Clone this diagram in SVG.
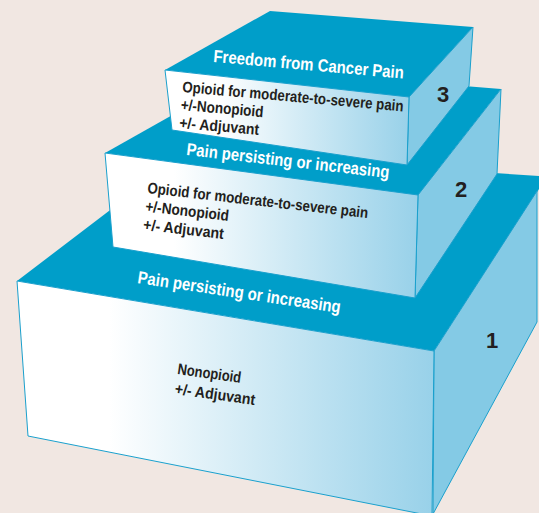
<svg xmlns="http://www.w3.org/2000/svg" width="539" height="513" viewBox="0 0 539 513">
  <defs>
    <linearGradient id="frontFill" x1="0" y1="0" x2="1" y2="0">
      <stop offset="0" stop-color="#ffffff"/>
      <stop offset="0.22" stop-color="#ffffff"/>
      <stop offset="1" stop-color="#98d1e9"/>
    </linearGradient>
    <style>
      .top { fill: #009ec9; }
      .side { fill: #84cae5; stroke: #1aa0cd; stroke-width: 1; stroke-linejoin: round; }
      .front { fill: url(#frontFill); stroke: #1aa0cd; stroke-width: 1; stroke-linejoin: round; }
      .label { font-family: 'Liberation Sans', Arial, sans-serif; font-weight: bold; fill: #ffffff; font-size: 17.5px; }
      .body { font-family: 'Liberation Sans', Arial, sans-serif; font-weight: bold; fill: #231f20; font-size: 15.5px; }
      .step { font-family: 'Liberation Sans', Arial, sans-serif; font-weight: bold; fill: #231f20; font-size: 22px; }
    </style>
  </defs>

  <rect width="539" height="513" fill="#f1e7e2"/>

  <!-- Step 1: base block -->
  <g id="step1">
    <polygon class="top" points="17,281 434,351 539,189 539,176 185,153"/>
    <polygon class="side" points="434,351 537,191 537,322 433,514"/>
    <polygon class="front" points="17,281 434,351 432,516 28,436"/>
    <text class="label" transform="rotate(8.4 137 283)" x="137" y="283" textLength="205" lengthAdjust="spacingAndGlyphs">Pain persisting or increasing</text>
    <text class="body" transform="rotate(8 177 374)" x="177" y="374" textLength="64" lengthAdjust="spacingAndGlyphs">Nonopioid</text>
    <text class="body" transform="rotate(8 174.2 393.8)" x="174.2" y="393.8" textLength="81" lengthAdjust="spacingAndGlyphs">+/- Adjuvant</text>
    <text class="step" x="486" y="348">1</text>
  </g>

  <!-- Step 2: middle block -->
  <g id="step2">
    <polygon class="top" points="105,153 418,195 501,89 254,69"/>
    <polygon class="side" points="418,195 501,89 497,174 415,298"/>
    <polygon class="front" points="105,153 418,195 415,298 113,247"/>
    <text class="label" transform="rotate(6.5 186 155)" x="186" y="155" textLength="204" lengthAdjust="spacingAndGlyphs">Pain persisting or increasing</text>
    <text class="body" transform="rotate(6.5 147 193)" x="147" y="193" textLength="222" lengthAdjust="spacingAndGlyphs">Opioid for moderate-to-severe pain</text>
    <text class="body" transform="rotate(6.5 144.9 211.4)" x="144.9" y="211.4" textLength="84" lengthAdjust="spacingAndGlyphs">+/-Nonopioid</text>
    <text class="body" transform="rotate(6.5 142.8 229.8)" x="142.8" y="229.8" textLength="81" lengthAdjust="spacingAndGlyphs">+/- Adjuvant</text>
    <text class="step" x="455" y="197">2</text>
  </g>

  <!-- Step 3: top block -->
  <g id="step3">
    <polygon class="top" points="165,70 409,97 473,27 270,11"/>
    <polygon class="side" points="409,97 473,27 469,86 407,165"/>
    <polygon class="front" points="165,70 409,97 407,165 172,130"/>
    <text class="label" transform="rotate(5 213 62)" x="213" y="62" textLength="191" lengthAdjust="spacingAndGlyphs">Freedom from Cancer Pain</text>
    <text class="body" transform="rotate(5 182 92)" x="182" y="92" textLength="222" lengthAdjust="spacingAndGlyphs">Opioid for moderate-to-severe pain</text>
    <text class="body" transform="rotate(5 180.4 109.9)" x="180.4" y="109.9" textLength="83" lengthAdjust="spacingAndGlyphs">+/-Nonopioid</text>
    <text class="body" transform="rotate(5 178.9 127.9)" x="178.9" y="127.9" textLength="80" lengthAdjust="spacingAndGlyphs">+/- Adjuvant</text>
    <text class="step" x="437" y="102">3</text>
  </g>

  <!-- No connectors in this diagram -->
  <g id="connectors"/>
</svg>
